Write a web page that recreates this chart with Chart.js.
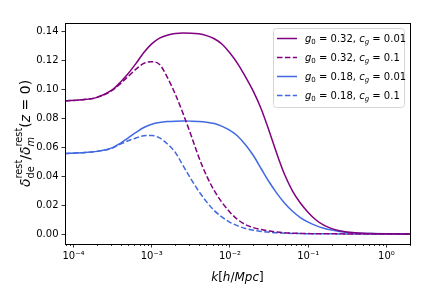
<!DOCTYPE html>
<html><head><meta charset="utf-8">
<script src="https://cdn.jsdelivr.net/npm/chart.js@4/dist/chart.umd.min.js"></script>
<style>html,body{margin:0;padding:0;background:#fff}#wrap{width:432px;height:288px}</style>
</head><body><div id="wrap"><canvas id="c" width="432" height="288"></canvas></div>
<script>
// ---- data ----
const kValues = [7.8e-5, 1.26e-4, 2.0e-4, 3.16e-4, 3.98e-4, 5.01e-4, 6.31e-4, 7.94e-4,
  1.0e-3, 1.26e-3, 1.58e-3, 2.0e-3, 2.51e-3, 3.16e-3, 3.98e-3, 5.01e-3, 6.31e-3, 7.94e-3,
  1.0e-2, 1.26e-2, 1.58e-2, 2.0e-2, 2.51e-2, 3.16e-2, 3.98e-2, 5.01e-2, 6.31e-2, 7.94e-2,
  0.1, 0.126, 0.158, 0.2, 0.251, 0.398, 0.631, 1.0, 2.0];
const g032_cg001 = [0.0921, 0.0928, 0.0945, 0.0998, 0.1050, 0.1110, 0.1180, 0.1255,
  0.1315, 0.1355, 0.1375, 0.1386, 0.1390, 0.1389, 0.1384, 0.1372, 0.1350, 0.1312,
  0.1252, 0.1177, 0.1087, 0.0985, 0.0865, 0.0715, 0.0555, 0.0410, 0.0298, 0.0215,
  0.0150, 0.0098, 0.0062, 0.0038, 0.0024, 0.0009, 0.0004, 0.0002, 0.0001];
const g032_cg01 = [0.0921, 0.0928, 0.0945, 0.0995, 0.1040, 0.1090, 0.1140, 0.1180,
  0.1192, 0.1172, 0.1085, 0.0968, 0.0835, 0.0688, 0.0535, 0.0405, 0.0300, 0.0218,
  0.0152, 0.0100, 0.0066, 0.0045, 0.0032, 0.0022, 0.0015, 0.0010, 0.0007, 0.0005,
  0.0004, 0.0003, 0.0003, 0.0002, 0.0002, 0.0001, 0.0001, 0.0001, 0.0001];
const g018_cg001 = [0.0557, 0.0563, 0.0572, 0.0598, 0.0628, 0.0665, 0.0703, 0.0737,
  0.0760, 0.0772, 0.0778, 0.0781, 0.0782, 0.0781, 0.0779, 0.0774, 0.0764, 0.0745,
  0.0717, 0.0677, 0.0618, 0.0542, 0.0452, 0.0362, 0.0282, 0.0214, 0.0158, 0.0115,
  0.0083, 0.0059, 0.0041, 0.0028, 0.0019, 0.0008, 0.0004, 0.0002, 0.0001];
const g018_cg01 = [0.0557, 0.0563, 0.0572, 0.0595, 0.0622, 0.0645, 0.0665, 0.0680,
  0.0682, 0.0665, 0.0625, 0.0565, 0.0475, 0.0383, 0.0298, 0.0225, 0.0163, 0.0118,
  0.0082, 0.0057, 0.0039, 0.0027, 0.0019, 0.0013, 0.0009, 0.0007, 0.0005, 0.0004,
  0.0003, 0.0003, 0.0002, 0.0002, 0.0001, 0.0001, 0.0001, 0.0001, 0.0001];
const yTickValues = [0.00, 0.02, 0.04, 0.06, 0.08, 0.10, 0.12, 0.14];
const xMajorTicks = [1e-4, 1e-3, 1e-2, 1e-1, 1];
const xTickLabels = ['10\u207B\u2074', '10\u207B\u00B3', '10\u207B\u00B2', '10\u207B\u00B9', '10\u2070'];
const seriesG0 = ['0.32', '0.32', '0.18', '0.18'];
const seriesCg = ['0.01', '0.1', '0.01', '0.1'];

// ---- styles ----
const PURPLE = '#800080', BLUE = '#4169E1';
const DASH = [5.5, 2.4];
const FAM = '"DejaVu Sans"';
const styles = [
  {color: PURPLE, dash: []}, {color: PURPLE, dash: DASH},
  {color: BLUE, dash: []}, {color: BLUE, dash: DASH}
];
const seriesData = [g032_cg001, g032_cg01, g018_cg001, g018_cg01];
const X_MIN = 7.8e-5, X_MAX = 2.0;

function fontStr(size, it) { return (it ? 'italic ' : '') + size + 'px ' + FAM; }
function segWidth(ctx, s) {
  if (s.stack) return Math.max(segWidth(ctx, s.stack[0]), segWidth(ctx, s.stack[1]));
  ctx.font = fontStr(s.size, s.it); return ctx.measureText(s.t).width;
}
function drawRich(ctx, segs, x, y, align) {
  const ws = segs.map(s => segWidth(ctx, s));
  const total = ws.reduce((a, b) => a + b, 0);
  let cx = align === 'center' ? x - total / 2 : (align === 'right' ? x - total : x);
  ctx.textBaseline = 'alphabetic'; ctx.textAlign = 'left';
  segs.forEach((s, i) => {
    const parts = s.stack ? s.stack : [s];
    parts.forEach(p => { ctx.font = fontStr(p.size, p.it); ctx.fillText(p.t, cx, y + (p.dy || 0)); });
    cx += ws[i];
  });
}

const minorTicks = [];
for (let d = -5; d <= 0; d++) for (let m = 2; m <= 9; m++) {
  const v = m * Math.pow(10, d);
  if (v >= X_MIN && v <= X_MAX) minorTicks.push(v);
}

const deco = {
  id: 'deco',
  afterDraw(chart) {
    const ctx = chart.ctx, a = chart.chartArea, xs = chart.scales.x;
    ctx.save();
    // minor ticks
    ctx.strokeStyle = '#000'; ctx.lineWidth = 0.8;
    minorTicks.forEach(v => {
      const px = Math.round(xs.getPixelForValue(v)) + 0.5;
      ctx.beginPath(); ctx.moveTo(px, a.bottom); ctx.lineTo(px, a.bottom + 2); ctx.stroke();
    });
    // spines
    ctx.lineWidth = 1; ctx.strokeStyle = '#000';
    ctx.strokeRect(Math.round(a.left) + 0.5, Math.round(a.top) + 0.5, Math.round(a.right - a.left), Math.round(a.bottom - a.top));
    ctx.fillStyle = '#000';
    // x label
    drawRich(ctx, [
      {t: 'k', size: 12, it: true}, {t: '[', size: 12}, {t: 'h', size: 12, it: true},
      {t: '/', size: 12}, {t: 'Mpc', size: 12, it: true}, {t: ']', size: 12}
    ], (a.left + a.right) / 2, 281, 'center');
    // y label
    ctx.save();
    ctx.translate(30, (a.top + a.bottom) / 2);
    ctx.rotate(-Math.PI / 2);
    drawRich(ctx, [
      {t: '\u03B4', size: 14, it: true},
      {stack: [{t: 'rest', size: 9.8, dy: -8}, {t: 'de', size: 9.8, dy: 4}]},
      {t: '/', size: 14},
      {t: '\u03B4', size: 14, it: true},
      {stack: [{t: 'rest', size: 9.8, dy: -8}, {t: 'm', size: 9.8, it: true, dy: 4}]},
      {t: '(', size: 14}, {t: 'z', size: 14, it: true}, {t: ' = 0)', size: 14}
    ], 0, 0, 'center');
    ctx.restore();
    // legend
    const lx = 273.5, ly = 28.5, lw = 131, lh = 79, r = 3;
    ctx.beginPath();
    ctx.moveTo(lx + r, ly); ctx.lineTo(lx + lw - r, ly); ctx.quadraticCurveTo(lx + lw, ly, lx + lw, ly + r);
    ctx.lineTo(lx + lw, ly + lh - r); ctx.quadraticCurveTo(lx + lw, ly + lh, lx + lw - r, ly + lh);
    ctx.lineTo(lx + r, ly + lh); ctx.quadraticCurveTo(lx, ly + lh, lx, ly + lh - r);
    ctx.lineTo(lx, ly + r); ctx.quadraticCurveTo(lx, ly, lx + r, ly); ctx.closePath();
    ctx.fillStyle = 'rgba(255,255,255,0.8)'; ctx.fill();
    ctx.strokeStyle = '#d6d6d6'; ctx.lineWidth = 1; ctx.stroke();
    const rows = [38.5, 57.5, 76.5, 95.5];
    rows.forEach((ry, i) => {
      ctx.strokeStyle = styles[i].color; ctx.lineWidth = 1.5; ctx.setLineDash(styles[i].dash);
      ctx.beginPath(); ctx.moveTo(277, ry); ctx.lineTo(297, ry); ctx.stroke();
      ctx.setLineDash([]);
      ctx.fillStyle = '#000';
      drawRich(ctx, [
        {t: 'g', size: 10, it: true}, {t: '0', size: 7, dy: 1.5},
        {t: ' = ' + seriesG0[i] + ', ', size: 10},
        {t: 'c', size: 10, it: true}, {t: 'g', size: 7, it: true, dy: 1.5},
        {t: ' = ' + seriesCg[i], size: 10}
      ], 305, ry + 3.5, 'left');
    });
    ctx.restore();
  }
};

new Chart(document.getElementById('c'), {
  type: 'line',
  data: {
    datasets: seriesData.map((arr, i) => ({
      data: kValues.map((k, j) => ({x: k, y: arr[j]})),
      borderColor: styles[i].color, borderDash: styles[i].dash,
      borderWidth: 1.5, pointRadius: 0, fill: false,
      cubicInterpolationMode: 'monotone'
    }))
  },
  options: {
    responsive: false, animation: false, devicePixelRatio: 1,
    layout: {padding: {top: 23, right: 22, left: 0, bottom: 0}},
    plugins: {legend: {display: false}, tooltip: {enabled: false}},
    scales: {
      x: {
        type: 'logarithmic', min: X_MIN, max: X_MAX,
        afterBuildTicks: s => { s.ticks = xMajorTicks.map(v => ({value: v})); },
        afterFit: s => { s.height = 44; },
        grid: {display: true, drawOnChartArea: false, tickLength: 3.5, tickColor: '#000', tickWidth: 0.8},
        border: {display: false},
        ticks: {
          autoSkip: false, maxRotation: 0, padding: 3, color: '#000',
          font: {family: 'DejaVu Sans', size: 10},
          callback: (v) => { const i = xMajorTicks.findIndex(m => Math.abs(m - v) / m < 1e-6); return i >= 0 ? xTickLabels[i] : ''; }
        }
      },
      y: {
        type: 'linear', min: -0.0068, max: 0.1459,
        afterBuildTicks: s => { s.ticks = yTickValues.map(v => ({value: v})); },
        afterFit: s => { s.width = 65; },
        grid: {display: true, drawOnChartArea: false, tickLength: 3.5, tickColor: '#000', tickWidth: 0.8},
        border: {display: false},
        ticks: {padding: 3, color: '#000', font: {family: 'DejaVu Sans', size: 10}, callback: v => v.toFixed(2)}
      }
    }
  },
  plugins: [deco]
});
</script></body></html>
